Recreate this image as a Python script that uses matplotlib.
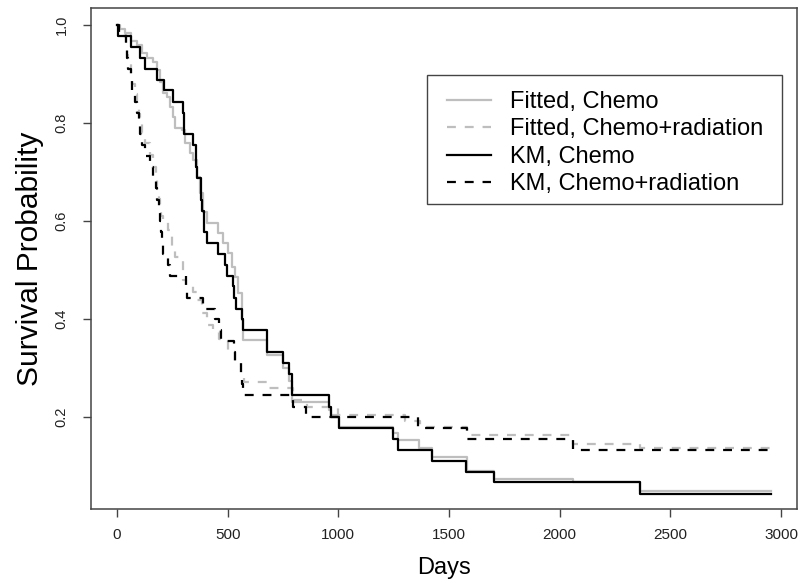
import matplotlib
matplotlib.use("Agg")
import matplotlib.pyplot as plt
from matplotlib.lines import Line2D
from matplotlib.patches import Rectangle

plt.rcParams['font.family'] = ['Liberation Sans', 'DejaVu Sans']

# KM, Chemo (solid black)
km_chemo_t = [0, 5, 62, 104, 126, 179, 214, 255, 300, 301, 302, 342, 357, 359, 361,
              378, 380, 385, 393, 395, 405, 458, 488, 499, 526, 528, 538, 563, 571,
              676, 678, 749, 779, 789, 791, 957, 967, 1002, 1246, 1271, 1423, 1575,
              1704, 2363, 2955]
km_chemo_s = [1.0, 0.978, 0.956, 0.933, 0.911, 0.889, 0.867, 0.844, 0.822, 0.800, 0.778,
              0.756, 0.733, 0.711, 0.689, 0.667, 0.644, 0.622, 0.600, 0.578, 0.556,
              0.533, 0.511, 0.489, 0.467, 0.444, 0.422, 0.400, 0.378, 0.356, 0.333,
              0.311, 0.289, 0.267, 0.245, 0.222, 0.200, 0.178, 0.156, 0.133, 0.111,
              0.089, 0.067, 0.044, 0.044]

# KM, Chemo+radiation (dashed black)
km_rad_t = [0, 10, 41, 45, 50, 65, 70, 80, 92, 100, 106, 112, 126, 150, 163, 175, 182,
            190, 195, 200, 205, 210, 232, 240, 312, 318, 390, 443, 460, 470, 529, 535,
            560, 565, 571, 794, 855, 1362, 1580, 2059, 2978]
km_rad_s = [1.0, 0.978, 0.956, 0.933, 0.911, 0.889, 0.867, 0.844, 0.822, 0.800, 0.778,
            0.756, 0.733, 0.711, 0.689, 0.667, 0.644, 0.622, 0.600, 0.578, 0.556,
            0.533, 0.511, 0.489, 0.467, 0.444, 0.422, 0.400, 0.378, 0.356, 0.333,
            0.311, 0.289, 0.267, 0.245, 0.222, 0.200, 0.178, 0.156, 0.133, 0.133]

# Fitted, Chemo (solid gray)
fit_chemo_t = [0, 14, 36, 62, 89, 111, 134, 164, 179, 194, 209, 224, 239, 255, 262, 292,
               307, 330, 345, 360, 375, 390, 405, 458, 480, 503, 518, 533, 548, 563,
               567, 571, 676, 749, 779, 789, 957, 967, 1002, 1246, 1271, 1366, 1423,
               1580, 1704, 2060, 2363, 2955]
fit_chemo_s = [1.0, 0.993, 0.984, 0.967, 0.960, 0.943, 0.933, 0.926, 0.909, 0.885, 0.861,
               0.854, 0.834, 0.813, 0.790, 0.786, 0.759, 0.739, 0.725, 0.691, 0.657,
               0.620, 0.596, 0.576, 0.555, 0.535, 0.507, 0.487, 0.453, 0.433, 0.399,
               0.358, 0.327, 0.300, 0.275, 0.232, 0.215, 0.205, 0.181, 0.168, 0.154,
               0.137, 0.118, 0.090, 0.075, 0.068, 0.049, 0.049]

# Fitted, Chemo+radiation (dashed gray)
fit_rad_t = [0, 10, 41, 45, 50, 65, 70, 80, 92, 100, 106, 112, 126, 150, 163, 175, 182,
             190, 195, 200, 209, 232, 247, 262, 300, 312, 345, 360, 383, 405, 435, 460,
             503, 533, 560, 573, 676, 794, 860, 1000, 1300, 1370, 1580, 2060, 2363, 2980]
fit_rad_s = [1.0, 0.985, 0.960, 0.940, 0.920, 0.900, 0.880, 0.860, 0.840, 0.820, 0.800,
             0.780, 0.760, 0.735, 0.710, 0.690, 0.665, 0.645, 0.625, 0.610, 0.599,
             0.582, 0.548, 0.528, 0.480, 0.467, 0.456, 0.439, 0.412, 0.388, 0.375,
             0.360, 0.337, 0.310, 0.290, 0.273, 0.259, 0.235, 0.222, 0.205, 0.193,
             0.180, 0.164, 0.145, 0.137, 0.137]

x_ticks = [0, 500, 1000, 1500, 2000, 2500, 3000]
y_ticks = [0.2, 0.4, 0.6, 0.8, 1.0]
legend_labels = ["Fitted, Chemo", "Fitted, Chemo+radiation", "KM, Chemo", "KM, Chemo+radiation"]

W, H = 803, 587
fig = plt.figure(figsize=(W / 100, H / 100), dpi=100)
ax = fig.add_axes([91 / W, 1 - 508.7 / H, (796.7 - 91) / W, (508.7 - 8) / H])

gray = "#BEBEBE"
lw = 1.6
dash = (4, 4)
ax.step(fit_chemo_t, fit_chemo_s, where='post', color=gray, lw=lw)
ax.step(fit_rad_t, fit_rad_s, where='post', color=gray, lw=lw, dashes=dash)
ax.step(km_chemo_t, km_chemo_s, where='post', color='black', lw=lw)
ax.step(km_rad_t, km_rad_s, where='post', color='black', lw=lw, dashes=dash)

ax.set_xlim(-117.5, 3071)
ax.set_ylim(0.0135, 1.0353)
ax.set_xticks(x_ticks)
ax.set_xticklabels([str(t) for t in x_ticks], fontsize=11)
ax.set_yticks(y_ticks)
ax.set_yticklabels(["%.1f" % v for v in y_ticks], rotation=90, va='center', fontsize=10.5)
ax.tick_params(axis='both', direction='out', length=6, width=1, colors='#444444',
               labelcolor='#222222')
ax.tick_params(axis='x', pad=8)
ax.tick_params(axis='y', pad=10)
for s in ax.spines.values():
    s.set_color('#444444')
    s.set_linewidth(1.1)

ax.set_xlabel("Days", fontsize=17, labelpad=11)
ax.set_ylabel("Survival Probability", fontsize=21.5, labelpad=8)

handles = [Line2D([], [], color=gray, lw=lw),
           Line2D([], [], color=gray, lw=lw, dashes=dash),
           Line2D([], [], color='black', lw=lw),
           Line2D([], [], color='black', lw=lw, dashes=dash)]
leg = fig.legend(handles, legend_labels, loc='upper left',
                 bbox_to_anchor=(447 / W, 1 - 91 / H), fontsize=17,
                 frameon=False, handlelength=1.85, handletextpad=0.8,
                 labelspacing=0.23, borderpad=0, borderaxespad=0)
box = Rectangle((427 / W, 1 - 204 / H), (782 - 427) / W, (204 - 75) / H,
                transform=fig.transFigure, fill=False, edgecolor='#444444', lw=1.0)
fig.add_artist(box)

fig.savefig("out.png", dpi=100)
